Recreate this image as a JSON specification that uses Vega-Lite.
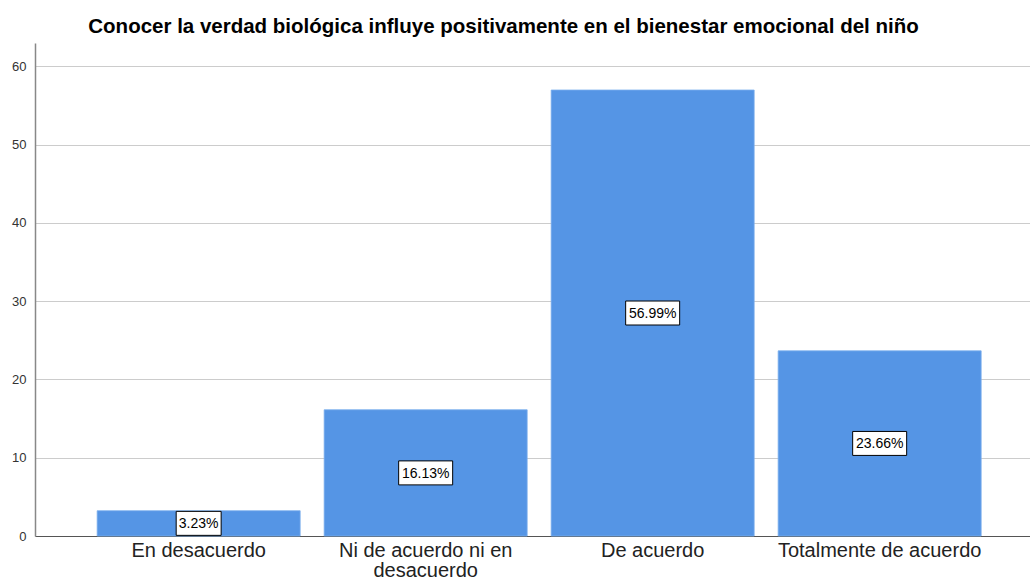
{
  "$schema": "https://vega.github.io/schema/vega-lite/v6.json",
  "width": 995,
  "height": 493,
  "autosize": {"type": "none"},
  "padding": {"left": 35, "top": 43, "right": 0, "bottom": 49},
  "background": "white",
  "title": {
    "text": "Conocer la verdad biológica influye positivamente en el bienestar emocional del niño",
    "font": "Liberation Sans",
    "fontSize": 20.5,
    "fontWeight": "bold",
    "color": "#000000",
    "anchor": "middle",
    "dx": -29,
    "offset": 6
  },
  "data": {
    "values": [
      {"categoria": "En desacuerdo", "pct": 3.23, "etiqueta": "3.23%"},
      {"categoria": "Ni de acuerdo ni en desacuerdo", "pct": 16.13, "etiqueta": "16.13%"},
      {"categoria": "De acuerdo", "pct": 56.99, "etiqueta": "56.99%"},
      {"categoria": "Totalmente de acuerdo", "pct": 23.66, "etiqueta": "23.66%"}
    ]
  },
  "encoding": {
    "x": {
      "field": "categoria",
      "type": "nominal",
      "sort": null,
      "scale": {"paddingInner": 0.1057, "paddingOuter": 0.2445, "align": 0.56},
      "axis": {
        "title": null,
        "labelAngle": 0,
        "labelFont": "Liberation Sans",
        "labelFontSize": 20,
        "labelColor": "#222222",
        "labelPadding": 4,
        "labelLineHeight": 20,
        "labelLimit": 400,
        "ticks": false,
        "domainColor": "#555555",
        "domainWidth": 1,
        "grid": false,
        "labelExpr": "datum.label == 'Ni de acuerdo ni en desacuerdo' ? ['Ni de acuerdo ni en', 'desacuerdo'] : datum.label"
      }
    }
  },
  "layer": [
    {
      "mark": {"type": "bar", "color": "#5595e5", "stroke": "#7aaeee", "strokeWidth": 0.8},
      "encoding": {
        "y": {
          "field": "pct",
          "type": "quantitative",
          "scale": {"domain": [0, 63], "nice": false},
          "axis": {
            "title": null,
            "values": [0, 10, 20, 30, 40, 50, 60],
            "labelFont": "Liberation Sans",
            "labelFontSize": 13,
            "labelColor": "#333333",
            "labelPadding": 9,
            "ticks": false,
            "domainColor": "#888888",
            "domainWidth": 1.5,
            "gridColor": "#cccccc",
            "gridWidth": 1
          }
        }
      }
    },
    {
      "transform": [{"calculate": "datum.pct / 2", "as": "medio"}],
      "mark": {"type": "point", "filled": true, "fill": "white", "stroke": "#000000", "strokeWidth": 1, "opacity": 1, "size": 2916},
      "encoding": {
        "y": {"field": "medio", "type": "quantitative"},
        "shape": {
          "condition": {"test": "datum.pct < 10", "value": "M-0.833,-0.444L0.833,-0.444L0.833,0.444L-0.833,0.444Z"},
          "value": "M-1,-0.444L1,-0.444L1,0.444L-1,0.444Z"
        }
      }
    },
    {
      "transform": [{"calculate": "datum.pct / 2", "as": "medio"}],
      "mark": {"type": "text", "font": "Liberation Sans", "fontSize": 14, "color": "#000000", "baseline": "middle", "align": "center", "dy": 1},
      "encoding": {
        "y": {"field": "medio", "type": "quantitative"},
        "text": {"field": "etiqueta", "type": "nominal"}
      }
    }
  ],
  "config": {
    "view": {"stroke": null}
  }
}
